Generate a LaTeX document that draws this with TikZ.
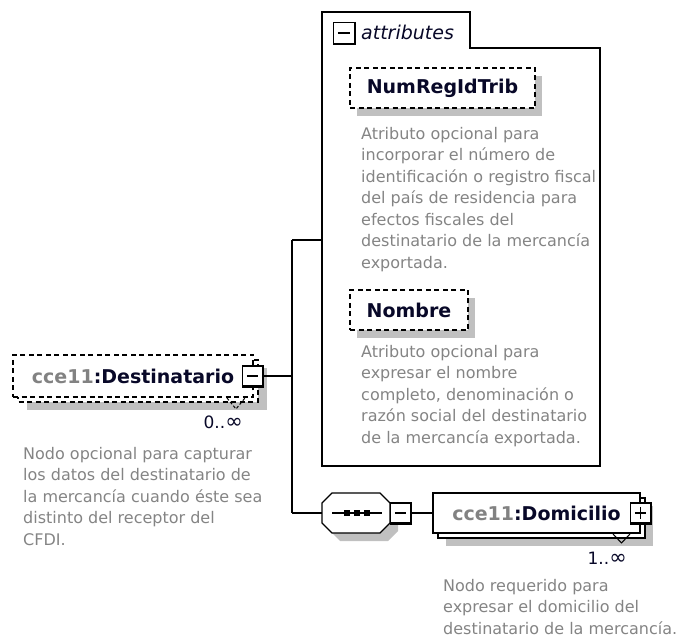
\documentclass[tikz,border=0pt]{standalone}
\usepackage{fontspec}
\setmainfont{DejaVu Sans}
\definecolor{descgray}{RGB}{132,132,132}
\definecolor{prefixgray}{RGB}{130,130,130}
\definecolor{namecol}{RGB}{8,8,40}
\definecolor{shadowgray}{RGB}{192,192,192}
\tikzset{
  elemdash/.style={draw, dash pattern=on 5pt off 3.5pt, line width=1.2pt},
  elemsolid/.style={draw, line width=1.2pt},
  namefont/.style={font=\fontsize{19}{23}\selectfont\bfseries, text=namecol},
  descfont/.style={font=\fontsize{16}{21.5}\selectfont, text=descgray, align=left, inner sep=0pt, anchor=north west},
  multfont/.style={font=\fontsize{17}{19}\selectfont, text=namecol, inner sep=0pt},
  togglebox/.style={draw, fill=white, line width=1.2pt, minimum size=20pt, inner sep=0pt},
  wire/.style={line width=1.3pt},
}
\begin{document}
\begin{tikzpicture}[x=1pt, y=-1pt]
            \useasboundingbox (0,0) rectangle (678,644);%

            % Shadows
            \fill [shadowgray] (27,368) rectangle (267,410);%
            \fill [shadowgray] (357,76) rectangle (542,116);%
            \fill [shadowgray] (357,298) rectangle (475,338);%
            \fill [shadowgray] (340,501) -- (388,501) -- (398,511) -- (398,531) -- (388,541) -- (340,541) -- (330,531) -- cycle;%
            \fill [shadowgray] (446,506) rectangle (653,546);%

            % Drawing element Destinatario (repeated, optional)
            \draw [elemdash, fill=white] (18,360) rectangle (258,402);%
            \node [elemdash, fill=white, minimum width=240pt, minimum height=42pt, namefont] (dest) at (133,376)
              {{\color{prefixgray}cce11}:Destinatario};%
            \draw [elemdash, dash pattern=on 3pt off 2pt, line width=1pt] (227,398) -- (236,409) -- (245,398);%
            \node [multfont, anchor=east] (destmult) at (243,422) {0..{\fontsize{21}{19}\selectfont ∞}};%

            % Marking toggle of Destinatario
            \node [togglebox] (dminus) at (252.5,376) {};%
            \draw [line width=2.4pt] (dminus.north east) -- (dminus.south east) -- (dminus.south west);%
            \draw [line width=1.3pt] ([xshift=5pt]dminus.west) -- ([xshift=-5pt]dminus.east);%

            % Description of Destinatario
            \node [descfont] (destdesc) at (23,447) {Nodo opcional para capturar\\los datos del destinatario de\\la mercancía cuando éste sea\\distinto del receptor del\\CFDI.};%

            % Drawing attributes group
            \draw [elemsolid] (322,466) -- (322,12) -- (470,12) -- (470,48) -- (600,48) -- (600,466) -- cycle;%
            \coordinate (attrw) at (322,240);%
            \node [togglebox, minimum size=21pt] (aminus) at (344,33) {};%
            \draw [line width=2.4pt] (aminus.north east) -- (aminus.south east) -- (aminus.south west);%
            \draw [line width=1.3pt] ([xshift=5pt]aminus.west) -- ([xshift=-5pt]aminus.east);%
            \node [font=\fontsize{19}{23}\selectfont\itshape, text=namecol, anchor=west, inner sep=0pt] (attrlabel) at (361,32) {attributes};%

            % Marking attribute NumRegIdTrib
            \node [elemdash, fill=white, minimum width=185pt, minimum height=40pt, namefont] (numreg) at (442.5,88) {NumRegIdTrib};%
            \node [descfont] (numregdesc) at (361,127) {Atributo opcional para\\incorporar el número de\\identificación o registro fiscal\\del país de residencia para\\efectos fiscales del\\destinatario de la mercancía\\exportada.};%

            % Marking attribute Nombre
            \node [elemdash, fill=white, minimum width=118pt, minimum height=40pt, namefont] (nombre) at (409,310) {Nombre};%
            \node [descfont] (nombredesc) at (361,345) {Atributo opcional para\\expresar el nombre\\completo, denominación o\\razón social del destinatario\\de la mercancía exportada.};%

            % Drawing sequence compositor
            \draw [elemsolid, fill=white] (332,493) -- (380,493) -- (390,503) -- (390,523) -- (380,533) -- (332,533) -- (322,523) -- (322,503) -- cycle;%
            \coordinate (seqw) at (322,513);%
            \draw [line width=1.2pt] (332,513) -- (382,513);%
            \foreach \sx in {346.5,356.5,366.5}
              \fill (\sx-3,510) rectangle (\sx+3,516);%
            \node [togglebox] (sminus) at (400.5,513) {};%
            \draw [line width=2.4pt] (sminus.north east) -- (sminus.south east) -- (sminus.south west);%
            \draw [line width=1.3pt] ([xshift=5pt]sminus.west) -- ([xshift=-5pt]sminus.east);%

            % Drawing element Domicilio (repeated, required)
            \draw [elemsolid, fill=white] (438,498) rectangle (645,538);%
            \node [elemsolid, fill=white, minimum width=207pt, minimum height=40pt, namefont] (domi) at (536.5,513)
              {{\color{prefixgray}cce11}:Domicilio};%
            \draw [line width=1pt] (613,534) -- (621.5,543) -- (630,534);%
            \node [multfont, anchor=east] (domimult) at (627,558) {1..{\fontsize{21}{19}\selectfont ∞}};%
            \node [togglebox] (dplus) at (640.5,513) {};%
            \draw [line width=2.4pt] (dplus.north east) -- (dplus.south east) -- (dplus.south west);%
            \draw [line width=1.3pt] ([xshift=5pt]dplus.west) -- ([xshift=-5pt]dplus.east);%
            \draw [line width=1.3pt] ([yshift=-5pt]dplus.north) -- ([yshift=5pt]dplus.south);%
            \node [descfont] (domidesc) at (443,579) {Nodo requerido para\\expresar el domicilio del\\destinatario de la mercancía.};%

            % Drawing connectors
            \coordinate (forktop) at (292,240);%
            \coordinate (forkbot) at (292,513);%
            \draw [wire] (dminus.east) -- (dminus.east -| forktop);%
            \draw [wire] (forktop) -- (forkbot);%
            \draw [wire] (forktop) -- (attrw);%
            \draw [wire] (forkbot) -- (seqw);%
            \draw [wire] (sminus.east) -- (domi.west);%
\end{tikzpicture}
\end{document}
